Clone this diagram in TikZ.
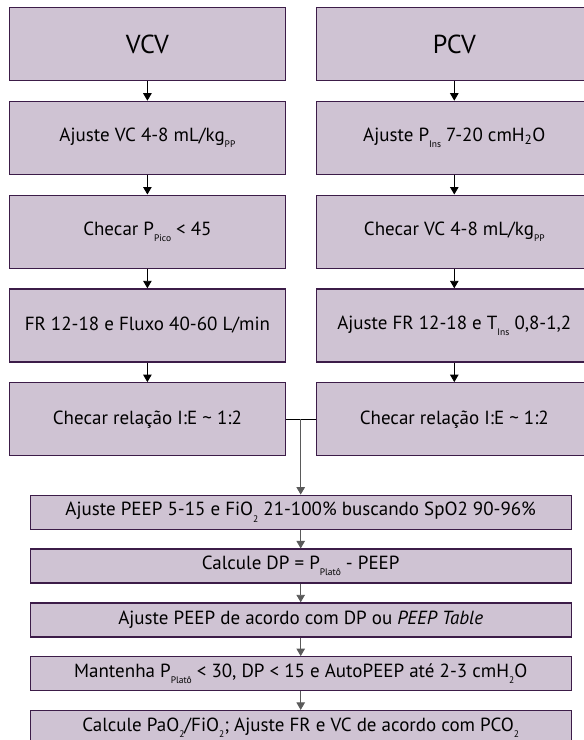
\documentclass[tikz,border=0pt]{standalone}
\usepackage{fontspec}
\setmainfont{PT Sans}
\usetikzlibrary{arrows.meta}
\definecolor{lilacfill}{HTML}{CFC3D3}
\definecolor{plumline}{HTML}{3C1C48}
\definecolor{flowgray}{HTML}{5A5A5A}
\newcommand{\lowsub}[1]{\raisebox{-0.65ex}{\fontsize{9.5}{9.5}\selectfont #1}}

\begin{document}
\begin{tikzpicture}[x=1pt, y=-1pt,
    colbox/.style={fill=lilacfill, draw=plumline, line width=1.2pt,
      minimum width=276pt, minimum height=73pt, inner sep=0pt,
      font=\fontsize{19}{21}\selectfont},
    modebox/.style={colbox, font=\fontsize{26}{28}\selectfont},
    widebox/.style={colbox, minimum width=541pt, minimum height=34pt},
    flow/.style={-{Triangle[width=8.5pt, length=7.5pt]}, line width=0.9pt},
    joinflow/.style={flow, draw=flowgray}]
  \path[use as bounding box, clip] (0,0) rectangle (584,740);

  % two modes side by side
  \node[modebox] (vcv) at (147.4,44) {VCV};
  \node[colbox] (vcvvol) at (147.4,137.8) {Ajuste VC 4-8 mL/kg\lowsub{PP}};
  \node[colbox] (vcvpeak) at (147.4,231.6) {Checar P\lowsub{Pico} < 45};
  \node[colbox] (vcvrate) at (147.4,325.4) {FR 12-18 e Fluxo 40-60 L/min};
  \node[colbox] (vcvratio) at (147.4,419.2) {Checar relação I:E \textasciitilde{} 1:2};

  \node[modebox] (pcv) at (454.3,44) {PCV};
  \node[colbox] (pcvpress) at (454.3,137.8) {Ajuste P\lowsub{Ins} 7-20 cmH\textsubscript{2}O};
  \node[colbox] (pcvvol) at (454.3,231.6) {Checar VC 4-8 mL/kg\lowsub{PP}};
  \node[colbox] (pcvrate) at (454.3,325.4) {Ajuste FR 12-18 e T\lowsub{Ins} 0,8-1,2};
  \node[colbox] (pcvratio) at (454.3,419.2) {Checar relação I:E \textasciitilde{} 1:2};

  % common steps
  \node[widebox] (peep) at (300.7,512.2) {Ajuste PEEP 5-15 e FiO\lowsub{2} 21-100\% buscando SpO2 90-96\%};
  \node[widebox] (drive) at (300.7,566) {Calcule DP = P\lowsub{Platô} - PEEP};
  \node[widebox] (table) at (300.7,619.9) {Ajuste PEEP de acordo com DP ou \textit{PEEP Table}};
  \node[widebox] (keep) at (300.7,673.7) {Mantenha P\lowsub{Platô} < 30, DP < 15 e AutoPEEP até 2-3 cmH\lowsub{2}O};
  \node[widebox] (gas) at (300.7,727.5) {Calcule PaO\lowsub{2}/FiO\lowsub{2}; Ajuste FR e VC de acordo com PCO\lowsub{2}};

  \draw[flow] (vcv) -- (vcvvol);
  \draw[flow] (vcvvol) -- (vcvpeak);
  \draw[flow] (vcvpeak) -- (vcvrate);
  \draw[flow] (vcvrate) -- (vcvratio);
  \draw[flow] (pcv) -- (pcvpress);
  \draw[flow] (pcvpress) -- (pcvvol);
  \draw[flow] (pcvvol) -- (pcvrate);
  \draw[flow] (pcvrate) -- (pcvratio);

  \draw[line width=0.9pt] (vcvratio.east) -- (pcvratio.west);
  \coordinate (join) at (peep.north |- vcvratio.east);
  \draw[joinflow] (join) -- (peep);
  \draw[joinflow] (peep) -- (drive);
  \draw[joinflow] (drive) -- (table);
  \draw[joinflow] (table) -- (keep);
  \draw[joinflow] (keep) -- (gas);
\end{tikzpicture}
\end{document}
